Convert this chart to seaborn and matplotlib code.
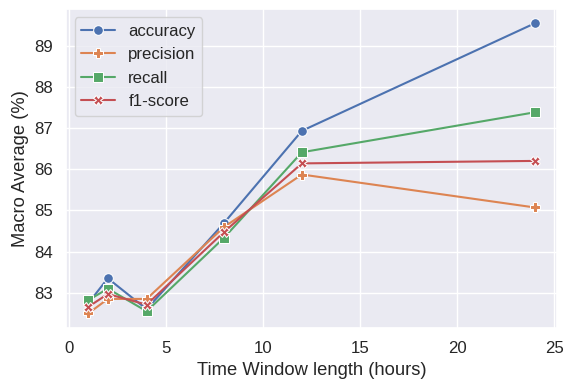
import pandas as pd
import matplotlib
matplotlib.use('Agg')
import matplotlib.pyplot as plt
import seaborn as sns

hours = [1, 2, 4, 8, 12, 24]
accuracy = [82.75, 83.35, 82.60, 84.70, 86.93, 89.54]
precision = [82.50, 82.85, 82.85, 84.60, 85.87, 85.07]
recall = [82.82, 83.10, 82.55, 84.34, 86.41, 87.38]
f1_score = [82.66, 82.97, 82.71, 84.48, 86.14, 86.20]

df = pd.DataFrame({'accuracy': accuracy, 'precision': precision,
                   'recall': recall, 'f1-score': f1_score}, index=hours)

sns.set_theme(style='darkgrid', font_scale=1.1)
plt.rcParams['font.family'] = ['Liberation Sans', 'DejaVu Sans']

fig, ax = plt.subplots(figsize=(5.65, 3.83), dpi=100)
sns.lineplot(data=df, markers=['o', 'P', 's', 'X'], dashes=False,
             markersize=7, ax=ax)
ax.set_xlabel('Time Window length (hours)')
ax.set_ylabel('Macro Average (%)')
ax.legend(loc='upper left')
fig.subplots_adjust(left=0.117, right=0.986, bottom=0.144, top=0.977)
plt.savefig('out.png')
